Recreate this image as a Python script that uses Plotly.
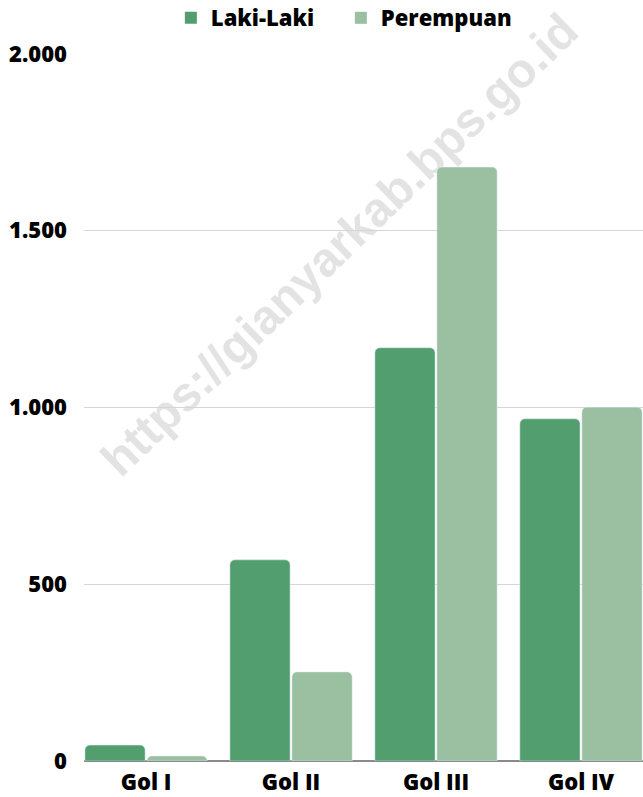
import plotly.graph_objects as go

categories = ["Gol I", "Gol II", "Gol III", "Gol IV"]
laki = [45, 569, 1169, 968]
perempuan = [14, 252, 1680, 1001]
ytick_vals = [0, 500, 1000, 1500, 2000]
series_names = ["Laki-Laki", "Perempuan"]

C_LAKI = "#529e6f"
C_PER = "#9abfa1"
FONT = "Open Sans"

fig = go.Figure()
fig.add_trace(go.Bar(name=series_names[0], x=categories, y=laki, showlegend=False,
                     marker=dict(color=C_LAKI, cornerradius=5)))
fig.add_trace(go.Bar(name=series_names[1], x=categories, y=perempuan, showlegend=False,
                     marker=dict(color=C_PER, cornerradius=5)))
for nm, col in zip(series_names, [C_LAKI, C_PER]):
    fig.add_trace(go.Scatter(x=[None], y=[None], mode="markers", name=nm,
                             marker=dict(symbol="square", size=12, color=col)))

gap = 0.144
L, R, T, B = 84, 0, 54, 36
W, H = 643, 797
fig.update_layout(
    width=W, height=H,
    margin=dict(l=L, r=R, t=T, b=B, autoexpand=False),
    paper_bgcolor="white", plot_bgcolor="white",
    barmode="group", bargap=gap, bargroupgap=0.03,
    separators=",.",
    font=dict(family=FONT, size=18, color="black"),
    showlegend=True,
    legend=dict(orientation="h", x=0.4595, xanchor="center", y=1.0 + (T - 18) / (H - T - B), yanchor="middle",
                font=dict(family=FONT, size=22, color="black", weight=800),
                entrywidth=125, entrywidthmode="pixels",
                traceorder="normal", itemclick=False),
    xaxis=dict(range=[-0.5 + gap / 2, 3.5 - gap / 2], showgrid=False, showline=False, automargin=False,
               ticks="", ticklabelstandoff=6, tickfont=dict(family=FONT, size=22, weight=800)),
    yaxis=dict(range=[0, 2000], tickvals=ytick_vals, tickformat=",d", automargin=False,
               showgrid=True, gridcolor="#d6d6d6", gridwidth=1,
               zeroline=True, zerolinecolor="#8a8a8a", zerolinewidth=1.5,
               ticks="", ticklabelstandoff=16,
               tickfont=dict(family=FONT, size=22, weight=800)),
)

fig.add_shape(
    type="rect", xref="paper", yref="paper", layer="below",
    x0=(336 - L) / (W - L - R) - 0.01, x1=(336 - L) / (W - L - R) + 0.01,
    y0=(761 - 241) / (H - T - B) - 0.01, y1=(761 - 241) / (H - T - B) + 0.01,
    line=dict(width=0), fillcolor="rgba(0,0,0,0)",
    label=dict(text="https://gianyarkab.bps.go.id", textangle=-44, textposition="middle center",
               font=dict(family="Liberation Sans", size=48, color="#e3e3e3", weight="bold")),
)

fig.write_html("out.html", config={"displayModeBar": False},
               post_script="document.body.style.margin='0';document.body.style.overflow='hidden';")
